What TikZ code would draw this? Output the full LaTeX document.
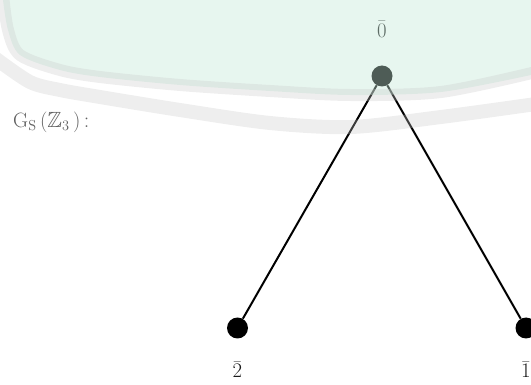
\documentclass[tikz,border=0pt]{standalone}
\usepackage{amssymb}
\usepackage{xcolor}
\usetikzlibrary{positioning}
\definecolor{gsgray}{RGB}{96,96,96}
\definecolor{gsdark}{RGB}{25,25,25}
\definecolor{wmgreen}{RGB}{195,232,215}
\definecolor{wmgray}{RGB}{200,200,200}

\begin{document}
\begin{tikzpicture}[
  x=1pt, y=-1pt,
  every node/.style={font=\fontsize{21}{25}\selectfont},
  vert/.style={circle, fill=black, inner sep=0pt, minimum size=21pt},
  lbl/.style={inner sep=0pt, text=gsdark},
  link/.style={line width=2pt, black},
  wmfill/.style={fill=wmgreen, fill opacity=0.4},
  band/.style={draw=wmgray, line width=12pt, draw opacity=0.3}
]
\useasboundingbox (0,0) rectangle (531,385);
\node[vert] (v0) at (382,76) {};
\node[vert] (v2) at (237.5,328) {};
\node[vert] (v1) at (526,328) {};
\node[lbl, above=28pt of v0] (l0) {$\bar{0}$};
\node[lbl, below=23pt of v2] (l2) {$\bar{2}$};
\node[lbl, below=23pt of v1] (l1) {$\bar{1}$};
\node[lbl, text=gsgray, anchor=west, font=\fontsize{22}{26}\selectfont] (gs) at (13,122) {$\mathrm{G}_{\mathrm{S}}\,(\mathbb{Z}_3\,)\,$:};
\draw[link] (v0) -- (v2);
\draw[link] (v0) -- (v1);
% faint watermark over the top
\fill[wmfill] (531,0) -- plot[smooth] coordinates {(531,75) (441,92) (350,95) (270,91) (180,85) (100,77) (60,70) (20,55) (8,30) (3,0)} -- cycle;
\draw[band] plot[smooth] coordinates {(3,-5) (8,30) (20,55) (60,70) (100,77) (180,85) (270,91) (350,95) (441,92) (536,72)};
\draw[band, line width=14pt] plot[smooth] coordinates {(-5,58) (30,82) (60,90) (100,97) (180,110) (270,123) (351,127) (441,117) (536,104)};
\end{tikzpicture}
\end{document}
